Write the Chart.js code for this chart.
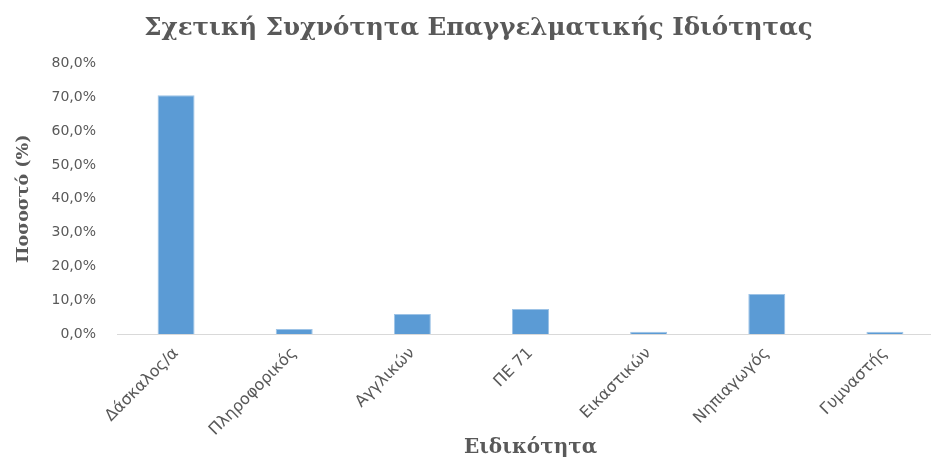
<!DOCTYPE html>
<html>
<head>
<meta charset="utf-8">
<script src="https://cdn.jsdelivr.net/npm/chart.js@4"></script>
<style>
  html, body { margin: 0; padding: 0; background: #fff; overflow: hidden; }
  #wrap { width: 944px; height: 457px; position: relative; }
</style>
</head>
<body>
<div id="wrap"><canvas id="c"></canvas></div>
<script>
// Specialty categories and their relative frequency (%)
const categories = ["Δάσκαλος/α", "Πληροφορικός", "Αγγλικών", "ΠΕ 71", "Εικαστικών", "Νηπιαγωγός", "Γυμναστής"];
const percentages = [70.6, 1.5, 5.9, 7.4, 0.7, 11.8, 0.7];
const yTicks = [0, 10, 20, 30, 40, 50, 60, 70, 80];

const grey = "#595959";

new Chart(document.getElementById("c"), {
  type: "bar",
  data: {
    labels: categories,
    datasets: [{
      data: percentages,
      backgroundColor: "#5B9BD5",
      borderColor: "#9DC3E6",
      borderWidth: 1,
      categoryPercentage: 1,
      barPercentage: 0.313
    }]
  },
  options: {
    responsive: true,
    maintainAspectRatio: false,
    animation: false,
    layout: { padding: { left: 13, right: 0, top: 4, bottom: 0 } },
    plugins: {
      legend: { display: false },
      tooltip: { enabled: false },
      title: {
        display: true,
        text: "Σχετική Συχνότητα Επαγγελματικής Ιδιότητας",
        color: grey,
        font: { family: "DejaVu Serif", size: 24.5, weight: "bold" },
        padding: { top: 10, bottom: 20 }
      }
    },
    scales: {
      x: {
        grid: { display: false, drawTicks: false },
        border: { color: "#D9D9D9", width: 1 },
        afterFit: (s) => { s.height = 123; },
        ticks: {
          color: grey,
          font: { family: "DejaVu Sans", size: 16 },
          maxRotation: 45,
          minRotation: 45,
          padding: 10
        },
        title: {
          display: true,
          text: "Ειδικότητα",
          color: grey,
          font: { family: "DejaVu Serif", size: 20, weight: "bold" },
          padding: { top: 4, bottom: -3 }
        }
      },
      y: {
        min: 0,
        max: 80,
        afterBuildTicks: (scale) => { scale.ticks = yTicks.map(v => ({ value: v })); },
        afterFit: (s) => { s.width = 104; },
        grid: { display: false, drawTicks: false },
        border: { display: false },
        ticks: {
          color: grey,
          font: { family: "DejaVu Sans", size: 14 },
          padding: 21,
          callback: (v) => v.toFixed(1).replace(".", ",") + "%"
        },
        title: {
          display: true,
          text: "Ποσοστό (%)",
          color: grey,
          font: { family: "DejaVu Serif", size: 17.5, weight: "bold" },
          padding: { top: 0, bottom: 6 }
        }
      }
    }
  }
});
</script>
</body>
</html>
